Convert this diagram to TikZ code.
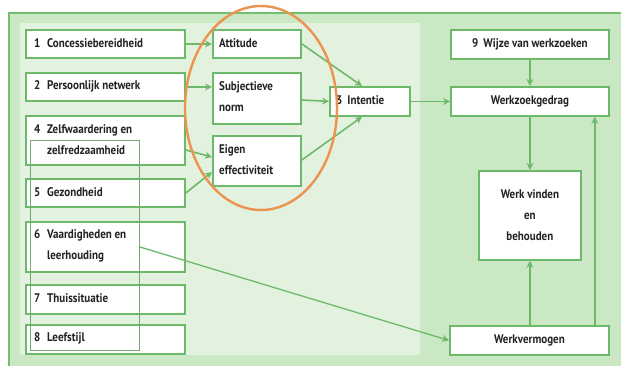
\documentclass[tikz,border=0pt]{standalone}
\usepackage{fontspec}
\setmainfont{PT Sans}[FakeStretch=0.88]
\usetikzlibrary{arrows.meta}
\definecolor{frameg}{HTML}{74BE70}
\definecolor{midg}{HTML}{CBE8C4}
\definecolor{lightg}{HTML}{E3F2DF}
\definecolor{lineg}{HTML}{6DB96A}
\definecolor{orng}{HTML}{EB9450}
\definecolor{txt}{HTML}{222222}
\newcommand\nm[1]{\makebox[13pt][l]{#1}}
\begin{document}
\begin{tikzpicture}[x=1pt,y=-1pt,
  fnt/.style={font={\fontsize{12.5}{21}\selectfont\bfseries},text=txt},
  box/.style={draw=lineg,line width=1.8pt,fill=white,anchor=north west,inner sep=0pt,fnt},
  cbox/.style={box,align=center},
  lbl/.style={anchor=west,inner sep=0pt,fnt,align=left},
  arr/.style={draw=lineg,line width=1.6pt,-{Stealth[length=7pt,width=7pt]}},
  ln/.style={draw=lineg,line width=1.3pt}]
\useasboundingbox (0,0) rectangle (621,365);
\begin{scope}
\clip (0,0) rectangle (621,365);
\fill[white] (0,0) rectangle (621,365);
\fill[midg,draw=frameg,line width=1.8pt] (9,13) rectangle (630,375);
\fill[lightg] (20,23) rectangle (420,355);
\end{scope}
% left column boxes
\node[box,minimum width=159,minimum height=28] (b1) at (25,29) {};
\node[lbl] (t1) at (34,43) {\nm{1}Concessiebereidheid};
\node[box,minimum width=159,minimum height=28] (b2) at (25,72) {};
\node[lbl] (t2) at (34,86) {\nm{2}Persoonlijk netwerk};
\node[box,minimum width=159,minimum height=49] (b4) at (25,115) {};
\node[lbl] (t4) at (34,139.5) {\nm{4}Zelfwaardering en\\\nm{}zelfredzaamheid};
\node[box,minimum width=159,minimum height=28] (b5) at (25,178) {};
\node[lbl] (t5) at (34,192) {\nm{5}Gezondheid};
\node[box,minimum width=159,minimum height=50] (b6) at (25,221) {};
\node[lbl] (t6) at (34,246) {\nm{6}Vaardigheden en\\\nm{}leerhouding};
\node[box,minimum width=159,minimum height=29] (b7) at (25,284) {};
\node[lbl] (t7) at (34,298.5) {\nm{7}Thuissituatie};
\node[box,minimum width=159,minimum height=29] (b8) at (25,324) {};
\node[lbl] (t8) at (34,338.5) {\nm{8}Leefstijl};
% ghost rectangle
\draw[draw=lineg!70!gray,line width=0.8pt] (30,140) rectangle (139,350);
% middle column
\node[box,minimum width=88,minimum height=28] (att) at (212,29) {};
\node[lbl] (tatt) at (219,43) {Attitude};
\node[box,minimum width=88,minimum height=51] (sub) at (212,72) {};
\node[lbl] (tsub) at (219,97) {Subjectieve\\norm};
\node[box,minimum width=88,minimum height=50] (eig) at (212,135) {};
\node[lbl] (teig) at (219,160) {Eigen\\effectiviteit};
\node[box,minimum width=80,minimum height=29] (int) at (329,86) {};
\node[lbl] (tint) at (336,100.5) {3\hspace{5pt}Intentie};
% right column
\node[cbox,minimum width=158,minimum height=29] (wij) at (450,29) {9\hspace{5pt}Wijze van werkzoeken};
\node[cbox,minimum width=158,minimum height=29] (wzg) at (450,86) {Werkzoekgedrag};
\node[cbox,minimum width=102,minimum height=89] (wvb) at (478,170) {Werk vinden\\en\\behouden};
\node[cbox,minimum width=159,minimum height=29] (wv) at (449,325) {Werkvermogen};
% connectors
\draw[arr] (b1.east) -- (att.west);
\draw[arr] (b2.east) -- (b2.east -| att.west);
\draw[arr] ([yshift=-35pt]b4.north east) -- ([yshift=-22pt]eig.north west);
\draw[arr] ([yshift=-15pt]b5.north east) -- ([yshift=-37pt]eig.north west);
\draw[arr] (att.east) -- ([xshift=33pt]int.north west);
\draw[arr] ([yshift=-28pt]sub.north east) -- (int.west);
\draw[arr] ([yshift=-25pt]eig.north east) -- ([xshift=33pt]int.south west);
\draw[arr] (int.east) -- (wzg.west);
\draw[arr] (wij.south) -- (wzg.north);
\draw[arr] (wzg.south) -- (wvb.north);
\draw[arr] (wv.north -| wvb.south) -- (wvb.south);
\draw[arr] ([xshift=-15pt]wv.north east) -- ([xshift=-15pt]wzg.south east);
\coordinate (s6) at (140,247);
\draw[ln,-{Stealth[length=7pt,width=7pt]}] (s6) -- (wv.west);
% orange ellipse
\draw[orng,line width=2.4pt] (261,108) ellipse [x radius=76, y radius=102];
\end{tikzpicture}
\end{document}
